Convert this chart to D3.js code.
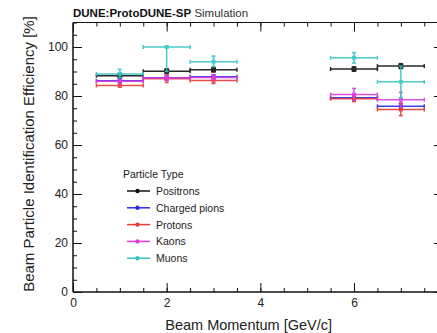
<!DOCTYPE html>
<html>
<head>
<meta charset="utf-8">
<script src="https://cdn.jsdelivr.net/npm/d3@7"></script>
<style>
  html, body { margin: 0; padding: 0; background: #fff; }
  svg { display: block; font-family: "Liberation Sans", Arial, sans-serif; }
  .axis path, .axis line { stroke: #111; }
  .axis text { font-size: 12px; fill: #222; }
</style>
</head>
<body>
<svg id="chart" width="437" height="333"></svg>
<script>
// beam momentum bins (GeV/c), each 1 GeV wide
var momenta = [1, 2, 3, 6, 7];
var binWidth = [1, 1, 1, 1, 1];

var particles = ["Positrons", "Charged pions", "Protons", "Kaons", "Muons"];
var colors = ["#111111", "#2b2be6", "#e63a3a", "#dd3ddd", "#36c6c6"];

// efficiency [%] and its lower / upper uncertainty per particle type
var positrons    = [88.3, 90.1, 90.7, 91.0, 92.2];
var positronsLo  = [0.8, 1.0, 0.9, 0.9, 1.0];
var positronsHi  = [0.8, 1.0, 0.9, 0.9, 1.0];
var pions        = [86.2, 87.4, 87.9, 79.3, 75.8];
var pionsLo      = [0.8, 0.8, 0.8, 1.0, 1.2];
var pionsHi      = [0.8, 0.8, 0.8, 1.0, 1.2];
var protons      = [84.3, 87.0, 86.3, 78.9, 74.5];
var protonsLo    = [0.7, 1.5, 1.2, 1.2, 2.5];
var protonsHi    = [0.7, 1.5, 1.2, 1.2, 2.5];
var kaons        = [86.0, 87.3, 87.6, 80.6, 78.5];
var kaonsLo      = [0.8, 1.0, 1.0, 2.5, 3.0];
var kaonsHi      = [0.8, 1.0, 1.0, 2.5, 3.0];
var muons        = [89.0, 100.0, 94.0, 95.6, 85.8];
var muonsLo      = [1.5, 10.0, 2.0, 2.2, 6.5];
var muonsHi      = [1.9, 0.0, 2.3, 2.1, 6.4];

var xTicks = [0, 2, 4, 6];
var yTicks = [0, 20, 40, 60, 80, 100];

var series = [
    { name: particles[0], values: positrons, lo: positronsLo, hi: positronsHi },
    { name: particles[1], values: pions, lo: pionsLo, hi: pionsHi },
    { name: particles[2], values: protons, lo: protonsLo, hi: protonsHi },
    { name: particles[3], values: kaons, lo: kaonsLo, hi: kaonsHi },
    { name: particles[4], values: muons, lo: muonsLo, hi: muonsHi }
];

var margin = { top: 22.5, right: -6, bottom: 41, left: 73 },
    width = 437,
    height = 333,
    innerW = width - margin.left - margin.right,
    innerH = height - margin.top - margin.bottom;

var svg = d3.select('#chart');

var x = d3.scaleLinear().domain([0, 7.9]).range([0, innerW]);
var y = d3.scaleLinear().domain([0, 110]).range([innerH, 0]);

var g = svg.append('g').attr('transform', 'translate(' + margin.left + ',' + margin.top + ')');

var xMinor = d3.range(0, 7.9, 0.5),
    yMinor = d3.range(0, 111, 5);

// bottom + top axes, ticks pointing into the frame
g.append('g').attr('class', 'axis')
    .attr('transform', 'translate(0,' + innerH + ')')
    .call(d3.axisBottom(x).tickValues(xMinor).tickSize(-4).tickFormat(''))
    .call(function (s) { s.select('.domain').remove(); });
g.append('g').attr('class', 'axis')
    .attr('transform', 'translate(0,' + innerH + ')')
    .call(d3.axisBottom(x).tickValues(xTicks).tickSize(-9).tickPadding(6).tickFormat(d3.format('d')))
    .call(function (s) { s.select('.domain').attr('stroke-width', 1.5).attr('d', 'M0,0H' + innerW); });

g.append('g').attr('class', 'axis')
    .call(d3.axisTop(x).tickValues(xMinor).tickSize(-4).tickFormat(''))
    .call(function (s) { s.select('.domain').remove(); });
g.append('g').attr('class', 'axis')
    .call(d3.axisTop(x).tickValues(xTicks).tickSize(-9).tickFormat(''))
    .call(function (s) { s.select('.domain').attr('stroke-width', 1.2).attr('d', 'M0,0H' + innerW); });

// left + right axes
g.append('g').attr('class', 'axis')
    .call(d3.axisLeft(y).tickValues(yMinor).tickSize(-4).tickFormat(''))
    .call(function (s) { s.select('.domain').remove(); });
g.append('g').attr('class', 'axis')
    .call(d3.axisLeft(y).tickValues(yTicks).tickSize(-9).tickPadding(5))
    .call(function (s) { s.select('.domain').attr('stroke-width', 1.5).attr('d', 'M0,' + innerH + 'V0'); });

g.append('g').attr('class', 'axis')
    .attr('transform', 'translate(' + innerW + ',0)')
    .call(d3.axisRight(y).tickValues(yMinor).tickSize(-4).tickFormat(''))
    .call(function (s) { s.select('.domain').remove(); });
g.append('g').attr('class', 'axis')
    .attr('transform', 'translate(' + innerW + ',0)')
    .call(d3.axisRight(y).tickValues(yTicks).tickSize(-9).tickFormat(''))
    .call(function (s) { s.select('.domain').attr('d', 'M0,' + innerH + 'V0'); });

g.selectAll('.axis line').attr('stroke-width', 1);

// error bars: horizontal = bin width, vertical = efficiency uncertainty
var cap = 2;
series.forEach(function (s, si) {
    var col = colors[si];
    var grp = g.append('g').attr('class', 'series')
        .attr('stroke', col).attr('fill', col).attr('stroke-width', 1.5).attr('opacity', 0.9);

    var pts = momenta.map(function (m, i) {
        return { m: m, w: binWidth[i], v: s.values[i], lo: s.lo[i], hi: s.hi[i] };
    });

    var bars = grp.selectAll('g.pt').data(pts).enter().append('g').attr('class', 'pt');

    bars.append('line')
        .attr('x1', function (d) { return x(d.m - d.w / 2); })
        .attr('x2', function (d) { return x(d.m + d.w / 2); })
        .attr('y1', function (d) { return y(d.v); })
        .attr('y2', function (d) { return y(d.v); });
    bars.append('line')
        .attr('x1', function (d) { return x(d.m - d.w / 2); })
        .attr('x2', function (d) { return x(d.m - d.w / 2); })
        .attr('y1', function (d) { return y(d.v) - cap; })
        .attr('y2', function (d) { return y(d.v) + cap; });
    bars.append('line')
        .attr('x1', function (d) { return x(d.m + d.w / 2); })
        .attr('x2', function (d) { return x(d.m + d.w / 2); })
        .attr('y1', function (d) { return y(d.v) - cap; })
        .attr('y2', function (d) { return y(d.v) + cap; });

    bars.append('line')
        .attr('x1', function (d) { return x(d.m); })
        .attr('x2', function (d) { return x(d.m); })
        .attr('y1', function (d) { return y(d.v - d.lo); })
        .attr('y2', function (d) { return y(d.v + d.hi); });
    bars.append('line')
        .attr('x1', function (d) { return x(d.m) - cap; })
        .attr('x2', function (d) { return x(d.m) + cap; })
        .attr('y1', function (d) { return y(d.v - d.lo); })
        .attr('y2', function (d) { return y(d.v - d.lo); });
    bars.append('line')
        .attr('x1', function (d) { return x(d.m) - cap; })
        .attr('x2', function (d) { return x(d.m) + cap; })
        .attr('y1', function (d) { return y(d.v + d.hi); })
        .attr('y2', function (d) { return y(d.v + d.hi); });

    var ms = si === 0 ? 5 : 4;
    bars.append('rect')
        .attr('stroke', 'none')
        .attr('x', function (d) { return x(d.m) - ms / 2; })
        .attr('y', function (d) { return y(d.v) - ms / 2; })
        .attr('width', ms).attr('height', ms);
});

// legend
var legend = svg.append('g').attr('transform', 'translate(123,0)');
legend.append('text')
    .attr('x', 0).attr('y', 178)
    .attr('font-size', 10.5).attr('fill', '#222')
    .text('Particle Type');

var rows = legend.selectAll('g.row').data(series).enter().append('g')
    .attr('class', 'row')
    .attr('transform', function (d, i) { return 'translate(0,' + (191 + i * 16.8) + ')'; });
rows.append('line')
    .attr('x1', 4).attr('x2', 27)
    .attr('stroke', function (d, i) { return colors[i]; })
    .attr('stroke-width', 1.5);
rows.append('circle')
    .attr('cx', 14.5).attr('r', 2.2)
    .attr('fill', function (d, i) { return colors[i]; });
rows.append('text')
    .attr('x', 33).attr('y', 4)
    .attr('font-size', 10.5).attr('fill', '#222')
    .text(function (d) { return d.name; });

// header
var head = svg.append('text').attr('x', 73).attr('y', 17).attr('font-size', 11.5).attr('fill', '#111');
head.append('tspan').attr('font-weight', 'bold').text('DUNE:ProtoDUNE-SP');
head.append('tspan').attr('fill', '#333').text(' Simulation');

// axis titles
svg.append('text')
    .attr('x', margin.left + x(3.75)).attr('y', 330)
    .attr('text-anchor', 'middle').attr('font-size', 14.5).attr('fill', '#222')
    .text('Beam Momentum [GeV/c]');

svg.append('text')
    .attr('transform', 'translate(34,154) rotate(-90)')
    .attr('text-anchor', 'middle').attr('font-size', 15).attr('fill', '#222')
    .text('Beam Particle Identification Efficiency [%]');
</script>
</body>
</html>
